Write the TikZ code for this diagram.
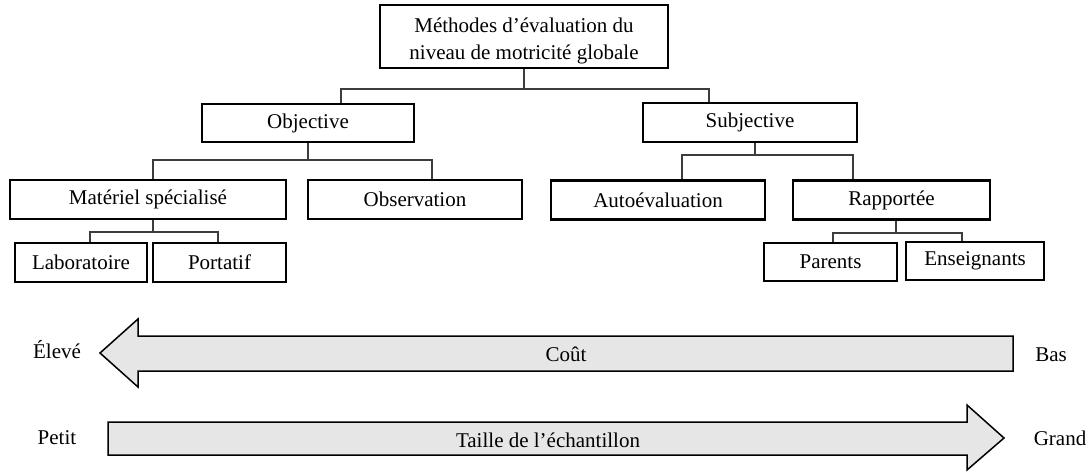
\documentclass[tikz,border=0pt]{standalone}
\usepackage{fontspec}
\setmainfont{Liberation Serif}
\definecolor{arrowfill}{RGB}{230,230,230}
\definecolor{connline}{RGB}{60,60,60}
\begin{document}
\begin{tikzpicture}[x=1pt,y=-1pt,
  box/.style={draw=black, line width=2.2pt, inner sep=0pt, align=center,
    font=\fontsize{21}{27}\selectfont},
  conn/.style={draw=connline, line width=1.1pt},
  bigarrow/.style={draw=black, line width=1.5pt, fill=arrowfill, line join=miter},
  lbl/.style={inner sep=0pt, font=\fontsize{21}{25}\selectfont}]
\useasboundingbox (0,0) rectangle (1091,471);

% boxes
\node[box, minimum width=288pt, minimum height=63pt] (root) at (524,36.5) {\rule{0pt}{24pt}Méthodes d’évaluation du\\niveau de motricité globale};
\node[box, minimum width=212pt, minimum height=38pt] (obj) at (308,123) {Objective};
\node[box, minimum width=214pt, minimum height=39pt] (subj) at (750,122.5) {Subjective};
\node[box, minimum width=276pt, minimum height=39pt] (mat) at (148,199.5) {Matériel spécialisé};
\node[box, minimum width=214pt, minimum height=39pt] (obs) at (415,199.5) {Observation};
\node[box, minimum width=214pt, minimum height=39pt] (auto) at (658,200) {Autoévaluation};
\node[box, minimum width=197pt, minimum height=39pt] (rapp) at (891.5,200) {Rapportée};
\node[box, minimum width=132pt, minimum height=39pt] (lab) at (81,262.5) {Laboratoire};
\node[box, minimum width=133pt, minimum height=39pt] (port) at (219.5,262.5) {Portatif};
\node[box, minimum width=133pt, minimum height=38pt] (par) at (830.5,262) {Parents};
\node[box, minimum width=138pt, minimum height=38pt] (ens) at (975,261) {Enseignants};

% junction coordinates
\coordinate (j1a) at (341,89);  \coordinate (j1b) at (709,89);
\coordinate (j2a) at (153,160); \coordinate (j2b) at (432,160);
\coordinate (j3s) at (153,232); \coordinate (j3a) at (90,232);  \coordinate (j3b) at (218,232);
\coordinate (j4s) at (755,155); \coordinate (j4a) at (682,155); \coordinate (j4b) at (853,155);
\coordinate (j5s) at (896,233); \coordinate (j5a) at (833,233); \coordinate (j5b) at (962,233);

% connectors
\draw[conn] (root.south) -- (root.south |- j1a);
\draw[conn] (obj.north -| j1a) |- (j1b) -- (j1b |- subj.north);

\draw[conn] (obj.south) -- (obj.south |- j2a);
\draw[conn] (mat.north -| j2a) |- (j2b) -- (j2b |- obs.north);

\draw[conn] (mat.south -| j3s) -- (j3s);
\draw[conn] (lab.north -| j3a) |- (j3b) -- (j3b |- port.north);

\draw[conn] (subj.south -| j4s) -- (j4s);
\draw[conn] (auto.north -| j4a) |- (j4b) -- (j4b |- rapp.north);

\draw[conn] (rapp.south -| j5s) -- (j5s);
\draw[conn] (par.north -| j5a) |- (j5b) -- (j5b |- ens.north);

% big arrows
\draw[bigarrow] (100,353) -- (138,319) -- (138,336) -- (1013,336) -- (1013,371)
  -- (138,371) -- (138,387) -- cycle;
\node[lbl] (cout) at (566,354) {Coût};

\draw[bigarrow] (108,422) -- (967,422) -- (967,405) -- (1004,438) -- (967,470)
  -- (967,455) -- (108,455) -- cycle;
\node[lbl] (taille) at (548,440) {Taille de l’échantillon};

% side labels
\node[lbl] (eleve) at (57,350) {Élevé};
\node[lbl] (bas) at (1051,355) {Bas};
\node[lbl] (petit) at (57,438) {Petit};
\node[lbl] (grand) at (1060,438) {Grand};
\end{tikzpicture}
\end{document}
